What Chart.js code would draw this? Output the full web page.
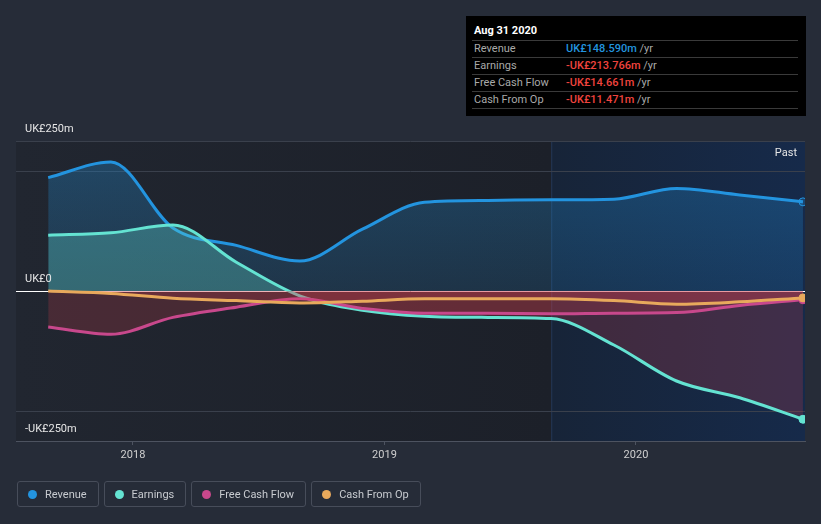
<!DOCTYPE html>
<html lang="en">
<head>
    <meta charset="UTF-8">
    <meta name="viewport" content="width=device-width, initial-scale=1.0">
    <title>chart</title>
    <style>
        body { margin: 0; background: #262c38; font-family: Roboto, "Noto Sans", sans-serif; }
        #app { position: relative; width: 821px; height: 524px; overflow: hidden; }
        .chart { position: absolute; left: 0; top: 0; width: 821px; height: 524px; }
        .tip { position: absolute; left: 466px; top: 16px; width: 340px; height: 100px; background: #000; }
        .tip .title { position: absolute; left: 8px; top: 8px; color: #fff; font-size: 11px; font-weight: bold; }
        .tip .row { position: absolute; left: 6px; width: 326px; height: 17px; border-top: 1px solid #3a3a3a; font-size: 11px; line-height: 16px; }
        .tip .row .lbl { position: absolute; left: 2px; color: #a9a9a9; }
        .tip .row .val { position: absolute; left: 94px; font-weight: 500; }
        .tip .row .unit { color: #a9a9a9; font-weight: normal; }
        .tip .last { position: absolute; left: 6px; top: 92px; width: 326px; border-top: 1px solid #3a3a3a; }
        .legend { position: absolute; left: 17px; top: 481px; display: flex; gap: 5px; }
        .legend div { height: 24px; border: 1px solid #474d5a; border-radius: 3px; padding: 0 11px 0 10px; display: flex; align-items: center; color: #c8cbd0; font-size: 11px; }
        .legend span { width: 9px; height: 9px; border-radius: 50%; margin-right: 8px; }
    </style>
</head>
<body>
    <div id="app">
        <div class="chart"><canvas id="line_chart"></canvas></div>
        <div class="tip" id="tip"></div>
        <div class="legend" id="legend"></div>
    </div>

    <script src="https://cdn.jsdelivr.net/npm/chart.js"></script>
    <script>
        // quarterly trailing-twelve-month figures, UK£ millions
        var dates = ['2017-08-31','2017-11-30','2018-02-28','2018-05-31','2018-08-31','2018-11-30','2019-02-28','2019-05-31','2019-08-31','2019-11-30','2020-02-29','2020-05-31','2020-08-31'];
        var revenue  = [189, 215, 105, 76, 50, 103, 148, 151, 152, 153, 171, 160, 148.590];
        var earnings = [93, 97, 110, 48, -8, -32, -42, -44, -46, -90, -150, -178, -213.766];
        var fcf      = [-60, -72, -44, -27, -13, -29, -37, -37, -38, -37, -36, -24, -14.661];
        var cfo      = [0, -4, -12, -16, -20, -17, -13, -13, -13, -16, -22, -18, -11.471];

        var series_names = ['Revenue', 'Earnings', 'Free Cash Flow', 'Cash From Op'];
        var series_colors = ['#2394df', '#64e3d2', '#c8488c', '#e8a95c'];
        var year_ticks = [2018, 2019, 2020];
        var y_grid = [-250, -200, 0, 200, 250];
        var y_labels = [[250, 'UK£250m'], [0, 'UK£0'], [-250, '-UK£250m']];
        var past_start = '2019-08-31';
        var x_min = 2017.535, x_max = 2020.672;

        function to_year(s) {
            var d = new Date(s + 'T00:00:00Z');
            var y = d.getUTCFullYear();
            var a = Date.UTC(y, 0, 1), b = Date.UTC(y + 1, 0, 1);
            return y + (d.getTime() - a) / (b - a);
        }

        function points(vals) {
            return vals.map(function (v, i) { return { x: to_year(dates[i]), y: v }; });
        }

        // tooltip box
        var months = ['Jan','Feb','Mar','Apr','May','Jun','Jul','Aug','Sep','Oct','Nov','Dec'];
        var last = dates[dates.length - 1].split('-');
        var tip = document.getElementById('tip');
        var html = '<div class="title">' + months[+last[1] - 1] + ' ' + (+last[2]) + ' ' + last[0] + '</div>';
        var all = [revenue, earnings, fcf, cfo];
        for (var i = 0; i < all.length; i++) {
            var v = all[i][all[i].length - 1];
            var txt = (v < 0 ? '-' : '') + 'UK£' + Math.abs(v).toFixed(3) + 'm';
            var col = v < 0 ? '#f0443e' : '#2394df';
            html += '<div class="row" style="top:' + (24 + i * 17) + 'px"><span class="lbl">' + series_names[i] +
                '</span><span class="val" style="color:' + col + '">' + txt + ' <span class="unit">/yr</span></span></div>';
        }
        html += '<div class="last"></div>';
        tip.innerHTML = html;

        var legend = document.getElementById('legend');
        for (var i = 0; i < series_names.length; i++) {
            legend.innerHTML += '<div><span style="background:' + series_colors[i] + '"></span>' + series_names[i] + '</div>';
        }

        var red_fill = 'rgba(214,62,78,0.22)';

        function last_dot(ctx) {
            return ctx.dataIndex === dates.length - 1 ? 4 : 0;
        }

        var bg_plugin = {
            id: 'bg',
            beforeDraw: function (chart) {
                var c = chart.ctx, a = chart.chartArea;
                var px = chart.scales.x.getPixelForValue(to_year(past_start));
                var g = c.createLinearGradient(a.left, 0, px, 0);
                g.addColorStop(0, '#212630');
                g.addColorStop(1, '#1c2029');
                c.save();
                c.fillStyle = g;
                c.fillRect(a.left, a.top, px - a.left, a.bottom - a.top);
                var g2 = c.createLinearGradient(px, 0, a.right, 0);
                g2.addColorStop(0, '#172438');
                g2.addColorStop(1, '#162a4a');
                c.fillStyle = g2;
                c.fillRect(px, a.top, a.right - px, a.bottom - a.top);
                c.fillStyle = 'rgba(60,90,140,0.35)';
                c.fillRect(px, a.top, 1, a.bottom - a.top);
                c.restore();
            },
            afterDraw: function (chart) {
                var c = chart.ctx, a = chart.chartArea, y = chart.scales.y;
                c.save();
                c.font = '11px Roboto';
                c.fillStyle = '#e6e6e6';
                c.textBaseline = 'middle';
                y_labels.forEach(function (l) {
                    c.fillText(l[1], 25, y.getPixelForValue(l[0]) - 12);
                });
                c.textAlign = 'right';
                c.fillText('Past', a.right - 8, a.top + 12);
                c.restore();
            }
        };

        var chart_el = document.getElementById('line_chart');

        new Chart(chart_el, {
            type: 'line',
            data: {
                datasets: [{
                    label: 'Revenue',
                    data: points(revenue),
                    borderColor: series_colors[0],
                    backgroundColor: function (ctx) {
                        var a = ctx.chart.chartArea;
                        if (!a) return 'rgba(35,148,223,0.22)';
                        var zero = ctx.chart.scales.y.getPixelForValue(0);
                        var g = ctx.chart.ctx.createLinearGradient(0, a.top, 0, zero);
                        g.addColorStop(0, 'rgba(35,148,223,0.32)');
                        g.addColorStop(1, 'rgba(35,148,223,0.16)');
                        return g;
                    },
                    fill: 'origin',
                    order: 4
                }, {
                    label: 'Earnings',
                    data: points(earnings),
                    borderColor: series_colors[1],
                    fill: { target: 'origin', above: 'rgba(100,222,210,0.3)', below: red_fill },
                    order: 3
                }, {
                    label: 'Free Cash Flow',
                    data: points(fcf),
                    borderColor: series_colors[2],
                    fill: { target: 'origin', above: red_fill, below: red_fill },
                    order: 2
                }, {
                    label: 'Cash From Op',
                    data: points(cfo),
                    borderColor: series_colors[3],
                    fill: { target: 'origin', above: red_fill, below: red_fill },
                    order: 1
                }]
            },
            options: {
                responsive: true,
                maintainAspectRatio: false,
                animation: false,
                layout: { padding: { left: 16, right: 16, top: 141, bottom: 0 } },
                elements: {
                    line: { borderWidth: 3, cubicInterpolationMode: 'monotone' },
                    point: {
                        radius: last_dot,
                        hoverRadius: last_dot,
                        borderWidth: 1,
                        borderColor: 'rgba(215,225,240,0.85)',
                        backgroundColor: function (ctx) { return series_colors[ctx.datasetIndex]; }
                    }
                },
                datasets: { line: { clip: 0 } },
                plugins: {
                    legend: { display: false },
                    tooltip: { enabled: false }
                },
                scales: {
                    x: {
                        type: 'linear',
                        min: x_min,
                        max: x_max,
                        afterBuildTicks: function (s) { s.ticks = year_ticks.map(function (v) { return { value: v }; }); },
                        afterFit: function (s) { s.height = 83; },
                        ticks: {
                            callback: function (v) { return String(v); },
                            color: '#d0d0d0',
                            font: { size: 11, family: 'Roboto' },
                            padding: 4,
                            maxRotation: 0,
                            autoSkip: false
                        },
                        grid: { drawOnChartArea: false, tickLength: 4, color: '#4d5360' },
                        border: { color: '#4d5360' }
                    },
                    y: {
                        min: -250,
                        max: 250,
                        afterBuildTicks: function (s) { s.ticks = y_grid.map(function (v) { return { value: v }; }); },
                        afterFit: function (s) { s.width = 0; },
                        ticks: { display: false },
                        grid: {
                            drawTicks: false,
                            color: function (ctx) {
                                if (ctx.tick.value === 0) return '#ffffff';
                                if (ctx.tick.value === -250) return 'rgba(0,0,0,0)';
                                return '#3a404c';
                            }
                        },
                        border: { display: false }
                    }
                }
            },
            plugins: [bg_plugin]
        });
    </script>
</body>
</html>
